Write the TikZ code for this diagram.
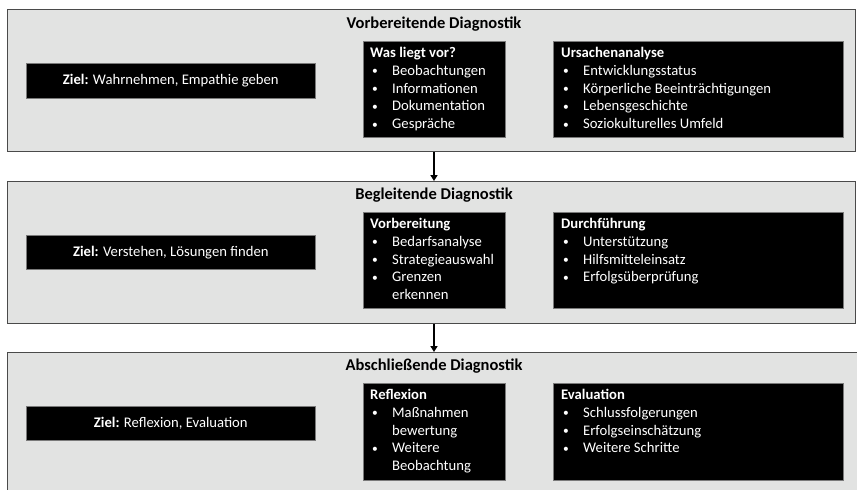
\documentclass[tikz,border=0pt]{standalone}
\usepackage{fontspec}
\setmainfont{Carlito}
\usetikzlibrary{arrows.meta,calc}
\definecolor{panelfill}{HTML}{E2E3E2}
\definecolor{panelline}{HTML}{4A4A4A}
\definecolor{boxline}{HTML}{7A7A7A}
\newcommand{\itm}[1]{\makebox[22pt][l]{\hspace{2pt}\raisebox{0.6pt}{\fontsize{11.5}{11.5}\selectfont\textbullet}}#1}
\newcommand{\cnt}[1]{\hspace*{22pt}#1}
\begin{document}
\begin{tikzpicture}[x=1pt,y=-1pt,
  font=\fontsize{14.67}{17.8}\selectfont,
  panel/.style={draw=panelline, line width=1.3pt, fill=panelfill, anchor=north west, inner sep=0pt},
  blk/.style={draw=boxline, line width=0.6pt, fill=black, anchor=north west, inner sep=0pt},
  ziel/.style={blk, text=white, minimum width=289pt, align=center},
  blktext/.style={text=white, anchor=north west, inner sep=0pt, align=left},
  ttl/.style={font=\fontsize{16.5}{19}\selectfont\bfseries, anchor=base},
  arr/.style={line width=1.5pt, -{Triangle[length=6pt,width=7pt]}}]
\useasboundingbox (0,0) rectangle (857,490);
\clip (0,0) rectangle (857,490);
\fill[white] (0,0) rectangle (857,490);
% panels
\node[panel, minimum width=848pt, minimum height=142pt] (p1) at (7,9) {};
\node[panel, minimum width=848pt, minimum height=142pt] (p2) at (7,181) {};
\node[panel, minimum width=870pt, minimum height=160pt] (p3) at (7,352) {};
% titles
\node[ttl] (t1) at (434,28) {Vorbereitende Diagnostik};
\node[ttl] (t2) at (434,199) {Begleitende Diagnostik};
\node[ttl] (t3) at (434,370) {Abschließende Diagnostik};
% Ziel boxes
\node[ziel, minimum height=35pt] (z1) at (26,63) {\textbf{Ziel:} Wahrnehmen, Empathie geben};
\node[ziel, minimum height=34pt] (z2) at (26,235) {\textbf{Ziel:} Verstehen, Lösungen finden};
\node[ziel, minimum height=34pt] (z3) at (26,406) {\textbf{Ziel:} Reflexion, Evaluation};
% middle boxes
\node[blk, minimum width=142pt, minimum height=96pt] (m1) at (363,41) {};
\node[blk, minimum width=142pt, minimum height=96pt] (m2) at (363,212) {};
\node[blk, minimum width=142pt, minimum height=97pt] (m3) at (363,383) {};
% right boxes
\node[blk, minimum width=290pt, minimum height=96pt] (r1) at (553,41) {};
\node[blk, minimum width=290pt, minimum height=96pt] (r2) at (553,212) {};
\node[blk, minimum width=290pt, minimum height=97pt] (r3) at (553,383) {};
% texts
\node[blktext] (m1t) at ($(m1.north west)+(7,6)$) {\textbf{Was liegt vor?}\\\itm{Beobachtungen}\\\itm{Informationen}\\\itm{Dokumentation}\\\itm{Gespräche}};
\node[blktext] (r1t) at ($(r1.north west)+(8,6)$) {\textbf{Ursachenanalyse}\\\itm{Entwicklungsstatus}\\\itm{Körperliche Beeinträchtigungen}\\\itm{Lebensgeschichte}\\\itm{Soziokulturelles Umfeld}};
\node[blktext] (m2t) at ($(m2.north west)+(7,6)$) {\textbf{Vorbereitung}\\\itm{Bedarfsanalyse}\\\itm{Strategieauswahl}\\\itm{Grenzen}\\\cnt{erkennen}};
\node[blktext] (r2t) at ($(r2.north west)+(8,6)$) {\textbf{Durchführung}\\\itm{Unterstützung}\\\itm{Hilfsmitteleinsatz}\\\itm{Erfolgsüberprüfung}};
\node[blktext] (m3t) at ($(m3.north west)+(7,6)$) {\textbf{Reflexion}\\\itm{Maßnahmen}\\\cnt{bewertung}\\\itm{Weitere}\\\cnt{Beobachtung}};
\node[blktext] (r3t) at ($(r3.north west)+(8,6)$) {\textbf{Evaluation}\\\itm{Schlussfolgerungen}\\\itm{Erfolgseinschätzung}\\\itm{Weitere Schritte}};
% arrows
\coordinate (ax) at (434,0);
\draw[arr] (p1.south -| ax) -- (p2.north -| ax);
\draw[arr] (p2.south -| ax) -- (p3.north -| ax);
\end{tikzpicture}
\end{document}
